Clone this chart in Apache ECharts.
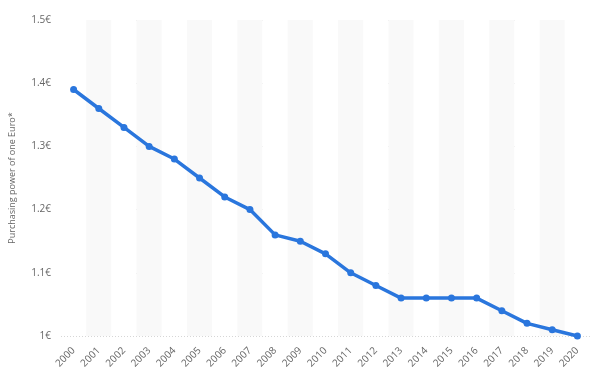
<!DOCTYPE html>
<html>
<head>
<meta charset="utf-8">
<script src="https://cdn.jsdelivr.net/npm/echarts@6/dist/echarts.min.js"></script>
<style>
  html, body { margin: 0; padding: 0; background: #fff; }
  #chart { width: 600px; height: 376px; }
</style>
</head>
<body>
<div id="chart"></div>
<script>
const years = ['2000', '2001', '2002', '2003', '2004', '2005', '2006', '2007', '2008', '2009', '2010',
  '2011', '2012', '2013', '2014', '2015', '2016', '2017', '2018', '2019', '2020']
const purchasingPower = [1.39, 1.36, 1.33, 1.30, 1.28, 1.25, 1.22, 1.20, 1.16, 1.15, 1.13,
  1.10, 1.08, 1.06, 1.06, 1.06, 1.06, 1.04, 1.02, 1.01, 1.00]
const axisTitle = 'Purchasing power of one Euro*'

const chart = echarts.init(document.getElementById('chart'))
chart.setOption({
  animation: false,
  textStyle: { fontFamily: 'Open Sans' },
  grid: { left: 58, right: 10, top: 20, bottom: 40 },
  xAxis: {
    type: 'category',
    data: years,
    boundaryGap: true,
    axisLine: { show: false },
    axisTick: { show: false },
    axisLabel: { rotate: 45, color: '#666', fontSize: 10, margin: 13 },
    splitArea: { show: true, areaStyle: { color: ['#ffffff', '#f9f9f9'] } },
  },
  yAxis: {
    type: 'value',
    min: 1,
    max: 1.5,
    interval: 0.1,
    name: axisTitle,
    nameLocation: 'middle',
    nameGap: 44,
    nameTextStyle: { color: '#666', fontSize: 9 },
    axisLine: { show: false },
    axisTick: { show: false },
    axisLabel: {
      color: '#666',
      fontSize: 10,
      margin: 10,
      formatter: (v) => parseFloat(v.toFixed(1)) + '€',
    },
    splitLine: { lineStyle: { color: '#d6d6d6', type: [1, 2] } },
  },
  series: [{
    type: 'line',
    data: purchasingPower,
    symbol: 'circle',
    symbolSize: 7,
    lineStyle: { color: '#2a76dd', width: 3.5 },
    itemStyle: { color: '#2a76dd' },
  }],
})
</script>
</body>
</html>
